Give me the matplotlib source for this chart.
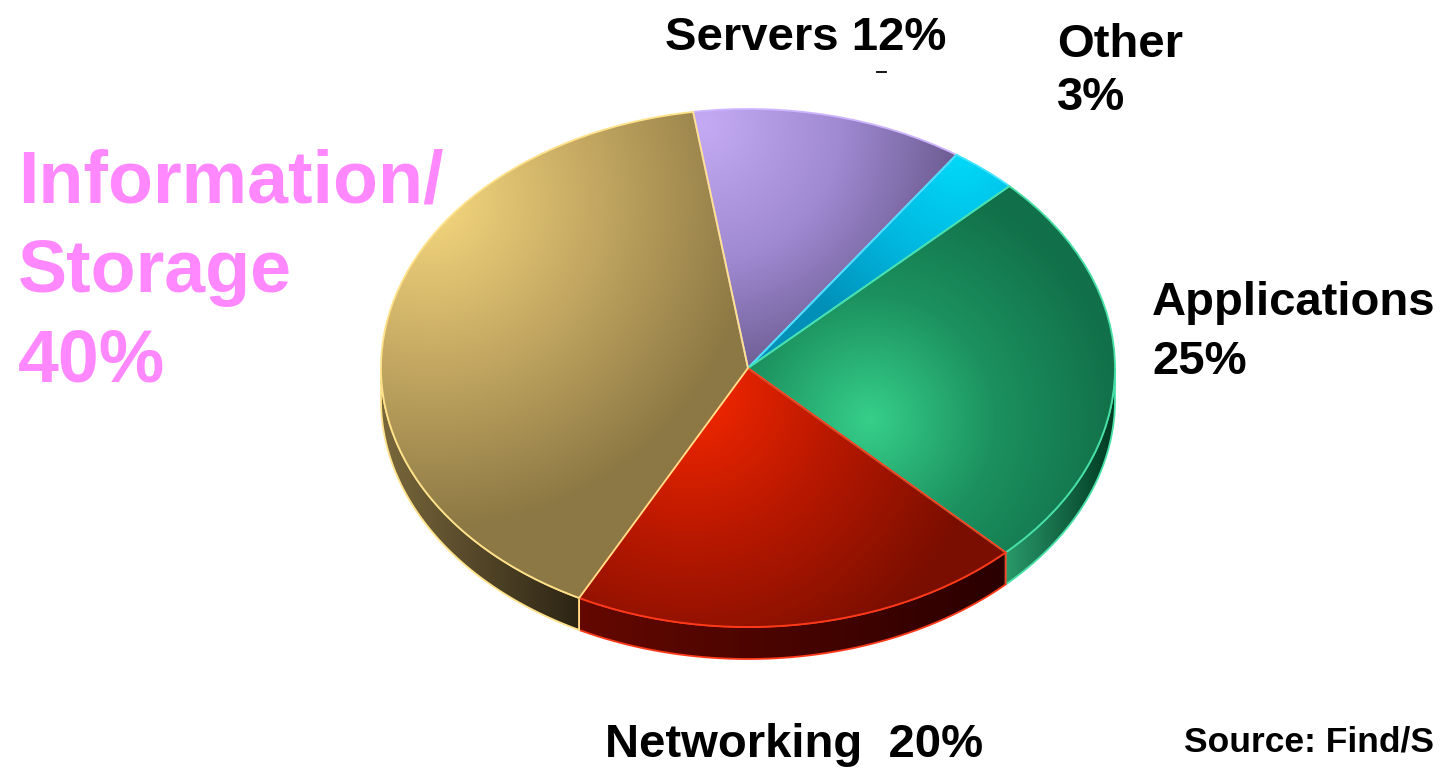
import numpy as np
import matplotlib.pyplot as plt
from matplotlib.patches import Polygon
from matplotlib.colors import LinearSegmentedColormap
from matplotlib.lines import Line2D

# ---- data ----
labels = ['Servers', 'Other', 'Applications', 'Networking', 'Information/Storage']
values = [12, 3, 25, 20, 40]
pct_text = ['12%', '3%', '25%', '20%', '40%']
start_angle = 98.6
source_text = 'Source: Find/S'

# ---- styles ----
top_colors = [
    ['#c4aaf4', '#a08ad2', '#66568a'],
    ['#00d8f8', '#00b8e0', '#0090b8'],
    ['#36cf8a', '#1c915f', '#117049'],
    ['#f82800', '#b81800', '#7a0e00'],
    ['#f6d87e', '#c4a862', '#8c7844'],
]
focus = [(705, 125, 270), (960, 160, 200), (870, 420, 250), (690, 390, 300), (430, 200, 330)]
edge_colors = ['#cdb4ff', '#40e4ff', '#48e0a8', '#ff3a1a', '#ffe28a']
side_colors = [
    ['#4a3e66', '#2a2240'],
    ['#007090', '#004058'],
    ['#2a9a6a', '#003a22'],
    ['#640800', '#2a0000'],
    ['#7a683c', '#2c2414'],
]

W, H = 1444, 769
fig = plt.figure(figsize=(W / 100, H / 100), dpi=100)
fig.patch.set_facecolor('white')
ax = fig.add_axes([0, 0, 1, 1])
cx, cy, rx, ry = 748, 368, 367, 259
depth = 32 / ry
L, R = -cx / rx, (W - cx) / rx
B, T = -(H - cy) / ry, cy / ry

# pixel grid for gradients
gx = np.linspace(0, W, 724)
gy = np.linspace(0, H, 386)
PX, PY = np.meshgrid(gx, gy)


def grad_image(t, cols, clip, z):
    cmap = LinearSegmentedColormap.from_list('g', cols)
    im = ax.imshow(np.clip(t, 0, 1), cmap=cmap, vmin=0, vmax=1, origin='upper',
                   extent=(L, R, B, T), aspect='auto', interpolation='bilinear', zorder=z)
    im.set_clip_path(clip)
    return im


# ---- top faces via pie ----
wedges, _ = ax.pie(values, startangle=start_angle, counterclock=False, radius=1,
                   center=(0, 0),
                   wedgeprops=dict(linewidth=1.3, zorder=5))
ax.set_aspect('auto')
ax.set_xlim(L, R)
ax.set_ylim(B, T)
ax.axis('off')

for i, w in enumerate(wedges):
    w.set_facecolor('none')
    w.set_edgecolor(edge_colors[i])
    w.set_zorder(5)
    fx, fy, fr = focus[i]
    t = np.hypot(PX - fx, PY - fy) / fr
    grad_image(t, top_colors[i], w, 4)

# ---- sides (front arc) ----
for i, w in enumerate(wedges):
    a1, a2 = sorted([w.theta1, w.theta2])
    for k in (-720, -360, 0, 360):
        lo = max(a1 + k, 180)
        hi = min(a2 + k, 360)
        if hi <= lo:
            continue
        tt = np.radians(np.linspace(lo, hi, 200))
        xs = np.cos(tt)
        ys = np.sin(tt)
        pts = np.concatenate([np.column_stack([xs, ys]),
                              np.column_stack([xs[::-1], ys[::-1] - depth])])
        poly = Polygon(pts, closed=True, facecolor='none', edgecolor=edge_colors[i],
                       linewidth=1.3, zorder=3)
        ax.add_patch(poly)
        pxl = cx + xs.min() * rx
        pxr = cx + xs.max() * rx
        t = (PX - pxl) / max(pxr - pxl, 1)
        grad_image(t, side_colors[i], poly, 2)

# ---- labels ----
font = dict(family='Liberation Sans', weight='bold')


def put(txt, px, py, size, color='black'):
    fig.text(px / W, 1 - py / H, txt, ha='left', va='baseline', fontsize=size,
             color=color, **font)


put('Servers ' + pct_text[0], 665, 50, 34)
put(labels[1], 1057, 57, 34)
put(pct_text[1], 1057, 110, 34)
put(labels[2], 1152, 315, 34)
put(pct_text[2], 1152, 374, 34)
put(labels[3] + '  ' + pct_text[3], 605, 757, 34)
put('Information/', 18, 202, 53, '#ff88ff')
put('Storage', 18, 292, 53, '#ff88ff')
put(pct_text[4], 18, 382, 53, '#ff88ff')
put(source_text, 1184, 752, 25.5)

fig.add_artist(Line2D([877 / W, 886 / W], [1 - 72 / H, 1 - 72 / H], color='black', lw=1.3))

fig.savefig('out.png', dpi=100)
